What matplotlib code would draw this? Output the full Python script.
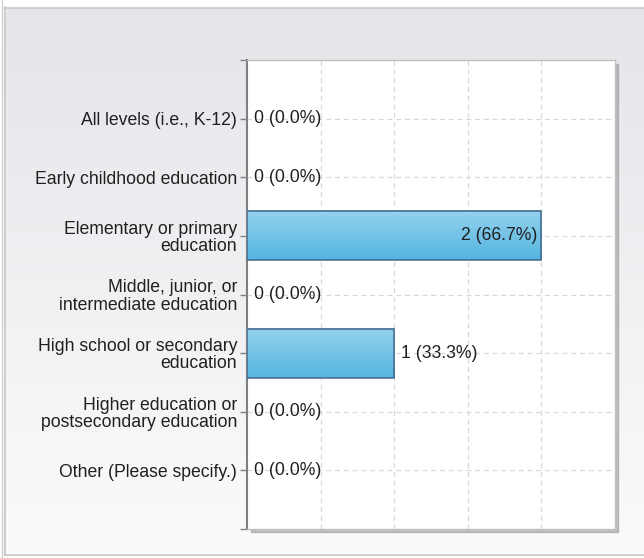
import numpy as np
import matplotlib
matplotlib.use("Agg")
import matplotlib.pyplot as plt
from matplotlib.patches import Rectangle
from matplotlib.colors import LinearSegmentedColormap

categories = [
    "All levels (i.e., K-12)",
    "Early childhood education",
    "Elementary or primary\neducation",
    "Middle, junior, or\nintermediate education",
    "High school or secondary\neducation",
    "Higher education or\npostsecondary education",
    "Other (Please specify.)",
]
counts = [0, 0, 2, 0, 1, 0, 0]
percents = [0.0, 0.0, 66.7, 0.0, 33.3, 0.0, 0.0]

W, H = 644, 558
FS = 12.7
FONT = "Liberation Sans"
TXT = "#202020"

fig = plt.figure(figsize=(W / 100, H / 100), dpi=100)

# background gradient panel
bg = fig.add_axes([0, 0, 1, 1], zorder=-10)
grad = np.linspace(0, 1, 256).reshape(-1, 1)
bg_cmap = LinearSegmentedColormap.from_list("bg", ["#e4e5e9", "#fbfbfc"])
bg.imshow(grad, aspect="auto", cmap=bg_cmap, extent=[0, W, H, 0])
bg.set_xlim(0, W)
bg.set_ylim(H, 0)
bg.axis("off")
bg.add_patch(Rectangle((0, 0), W, 7, color="white", zorder=2))
bg.add_patch(Rectangle((0, 0), 5, H, color="white", zorder=2))
bg.add_patch(Rectangle((0, 555), W, 3, color="white", zorder=2))
bg.plot([5.5, 5.5], [7, 555], color="#c4c4c4", lw=1.2, zorder=3)
bg.plot([2, 2], [0, H], color="#d0d0d0", lw=1.0, zorder=3)
bg.plot([5.5, W], [7.5, 7.5], color="#c8c8c8", lw=1.2, zorder=3)
bg.plot([5.5, W], [555, 555], color="#c8c8c8", lw=1.2, zorder=3)
# plot-area shadow
bg.add_patch(Rectangle((251, 64), 367, 468, color="#9a9a9a", alpha=0.6, zorder=1))

left, right, top, bottom = 247, 615, 60, 529
ax = fig.add_axes([left / W, 1 - bottom / H, (right - left) / W, (bottom - top) / H])
ax.set_facecolor("white")

n = len(categories)
ypos = np.arange(1, n + 1)

bar_h = 0.84
bar_cmap = LinearSegmentedColormap.from_list("bar", ["#93d2ee", "#55b5e0"])
for y, c in zip(ypos, counts):
    if c > 0:
        ax.imshow(grad, aspect="auto", cmap=bar_cmap,
                  extent=[0, c, y + bar_h / 2, y - bar_h / 2], zorder=3)
        ax.add_patch(Rectangle((0, y - bar_h / 2), c, bar_h, fill=False,
                               edgecolor="#46678a", lw=1.1, zorder=4))
ax.set_xlim(0, 2.5)
ax.set_ylim(n + 1, 0)

for y, c, p in zip(ypos, counts, percents):
    lab = f"{c} ({p:.1f}%)"
    if c >= 2:
        ax.text(c - 0.03, y, lab, ha="right", va="center", fontsize=FS,
                color=TXT, family=FONT, zorder=5)
    else:
        ax.text(c + 0.045, y, lab, ha="left", va="center", fontsize=FS,
                color=TXT, family=FONT, zorder=5)

ax.set_yticks(ypos)
ax.set_yticklabels(categories, fontsize=FS, family=FONT,
                   color=TXT, linespacing=1.0)
ax.set_yticks([0, n + 1], minor=True)
ax.tick_params(axis="y", which="both", length=5, color="#808080", width=1.0, pad=2)
ax.set_xticks([0.5, 1.0, 1.5, 2.0])
ax.tick_params(axis="x", length=0, labelbottom=False)

ax.grid(True, axis="both", linestyle=(0, (4, 3)), color="#d9d9d9", lw=0.9, zorder=0)
ax.set_axisbelow(True)

ax.spines["left"].set_color("#7f7f7f")
ax.spines["left"].set_linewidth(1.5)
for s in ["top", "right", "bottom"]:
    ax.spines[s].set_color("#c0c0c0")
    ax.spines[s].set_linewidth(1.0)

fig.savefig("out.png", dpi=100)
